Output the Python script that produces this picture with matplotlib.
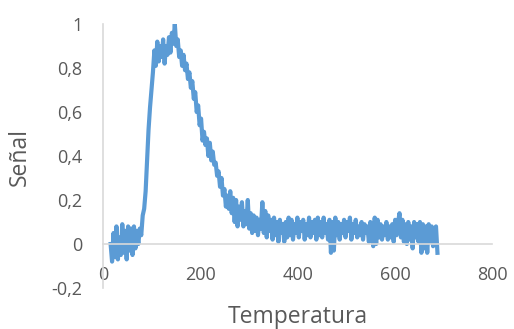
import matplotlib
matplotlib.use("Agg")
import matplotlib.pyplot as plt

# temperature (x) and normalised signal (y)
temperatura = [
    15, 18, 21, 24, 27, 30, 33, 36, 39, 42, 45, 48,
    51, 54, 57, 60, 63, 66, 69, 72, 75, 78, 81, 84,
    87, 90, 93, 96, 99, 102, 105, 108, 111, 114, 117, 120,
    123, 126, 129, 132, 135, 138, 141, 144, 147, 150, 153, 156,
    159, 162, 165, 168, 171, 174, 177, 180, 183, 186, 189, 192,
    195, 198, 201, 204, 207, 210, 213, 216, 219, 222, 225, 228,
    231, 234, 237, 240, 243, 246, 249, 252, 255, 258, 261, 264,
    267, 270, 273, 276, 279, 282, 285, 288, 291, 294, 297, 300,
    303, 306, 309, 312, 315, 318, 321, 324, 327, 330, 333, 336,
    339, 342, 345, 348, 351, 354, 357, 360, 363, 366, 369, 372,
    375, 378, 381, 384, 387, 390, 393, 396, 399, 402, 405, 408,
    411, 414, 417, 420, 423, 426, 429, 432, 435, 438, 441, 444,
    447, 450, 453, 456, 459, 462, 465, 468, 471, 474, 477, 480,
    483, 486, 489, 492, 495, 498, 501, 504, 507, 510, 513, 516,
    519, 522, 525, 528, 531, 534, 537, 540, 543, 546, 549, 552,
    555, 558, 561, 564, 567, 570, 573, 576, 579, 582, 585, 588,
    591, 594, 597, 600, 603, 606, 609, 612, 615, 618, 621, 624,
    627, 630, 633, 636, 639, 642, 645, 648, 651, 654, 657, 660,
    663, 666, 669, 672, 675, 678, 681, 684, 687,
]
senal = [
    0.00, -0.08, 0.05, -0.06, 0.08, -0.07, 0.03, -0.05, 0.09, -0.04, 0.06, -0.07,
    0.08, -0.03, 0.07, -0.05, 0.08, -0.02, 0.06, 0.00, 0.07, 0.04, 0.13, 0.16,
    0.24, 0.38, 0.52, 0.62, 0.70, 0.78, 0.88, 0.81, 0.92, 0.83, 0.90, 0.85,
    0.93, 0.82, 0.90, 0.86, 0.94, 0.87, 0.96, 0.91, 1.00, 0.90, 0.93, 0.85,
    0.88, 0.81, 0.86, 0.79, 0.82, 0.75, 0.78, 0.71, 0.74, 0.66, 0.69, 0.60,
    0.63, 0.54, 0.57, 0.47, 0.51, 0.45, 0.48, 0.40, 0.46, 0.38, 0.42, 0.36,
    0.37, 0.31, 0.33, 0.26, 0.30, 0.22, 0.25, 0.17, 0.22, 0.16, 0.24, 0.14,
    0.21, 0.10, 0.20, 0.08, 0.17, 0.11, 0.19, 0.08, 0.15, 0.09, 0.20, 0.07,
    0.14, 0.05, 0.13, 0.06, 0.12, 0.04, 0.11, 0.07, 0.19, 0.05, 0.15, 0.03,
    0.13, 0.06, 0.11, 0.02, 0.12, 0.04, 0.10, 0.01, 0.11, 0.05, 0.09, 0.01,
    0.10, 0.03, 0.12, 0.04, 0.11, 0.02, 0.09, 0.05, 0.12, 0.03, 0.10, 0.06,
    0.11, 0.02, 0.09, 0.04, 0.12, 0.03, 0.10, 0.05, 0.11, 0.02, 0.12, 0.04,
    0.10, 0.03, 0.12, 0.05, 0.09, 0.02, 0.11, -0.04, 0.10, -0.03, 0.12, 0.04,
    0.10, 0.02, 0.09, 0.05, 0.11, 0.03, 0.10, 0.06, 0.12, 0.02, 0.09, 0.05,
    0.11, 0.03, 0.08, 0.04, 0.10, 0.02, 0.09, 0.05, 0.08, 0.01, 0.10, 0.04,
    -0.01, 0.12, 0.00, 0.11, 0.03, 0.09, 0.02, 0.08, 0.04, 0.10, 0.02, 0.08,
    0.03, 0.09, 0.01, 0.11, 0.04, 0.10, 0.14, 0.03, 0.11, 0.01, 0.09, 0.00,
    0.10, 0.02, 0.08, -0.02, 0.10, 0.03, 0.09, 0.01, 0.10, -0.04, 0.09, -0.02,
    0.08, -0.04, 0.09, 0.01, 0.08, -0.01, 0.07, 0.08, -0.04,
]
x_ticks = [0, 200, 400, 600, 800]
y_ticks = [-0.2, 0, 0.2, 0.4, 0.6, 0.8, 1]
y_labels = ["-0,2", "0", "0,2", "0,4", "0,6", "0,8", "1"]

text_col = "#595959"
axis_col = "#D9D9D9"

plt.rcParams["font.family"] = ["Open Sans", "DejaVu Sans"]

fig = plt.figure(figsize=(5.14, 3.29), dpi=100)
ax = fig.add_axes([0.201, 0.1246, 0.757, 0.8024])

ax.plot(temperatura, senal, color="#5B9BD5", lw=3.0, solid_joinstyle="round")

ax.set_xlim(0, 800)
ax.set_ylim(-0.2, 1)

# excel style axes: horizontal axis crosses at y=0
for s in ["top", "right"]:
    ax.spines[s].set_visible(False)
ax.spines["bottom"].set_position(("data", 0))
ax.spines["bottom"].set_color(axis_col)
ax.spines["left"].set_color(axis_col)
ax.spines["bottom"].set_linewidth(1.2)
ax.spines["left"].set_linewidth(1.2)

ax.set_xticks(x_ticks)
ax.set_yticks(y_ticks)
ax.set_yticklabels(y_labels)
ax.tick_params(axis="x", length=0, pad=16, labelsize=13, labelcolor=text_col)
ax.tick_params(axis="y", length=0, pad=15, labelsize=13, labelcolor=text_col)

fig.text(0.58, 0.035, "Temperatura", ha="center", va="center",
         fontsize=16.5, color=text_col)
fig.text(0.038, 0.523, "Señal", ha="center", va="center",
         fontsize=16.5, color=text_col, rotation=90)

fig.savefig("out.png", dpi=100)
